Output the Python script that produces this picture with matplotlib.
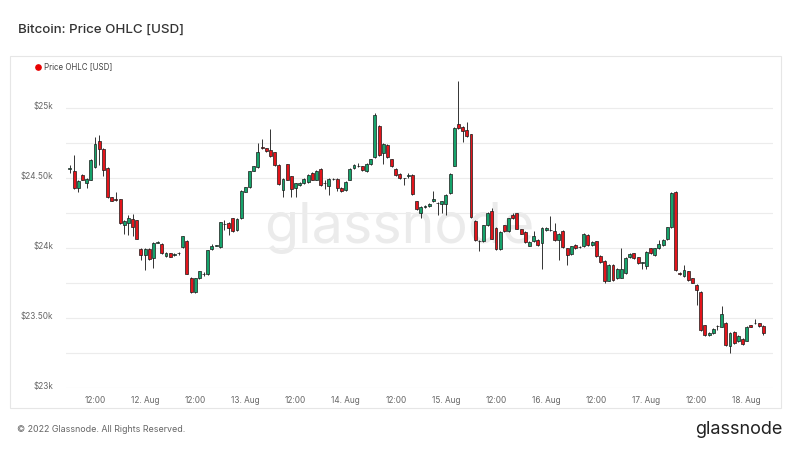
import datetime as dt
import matplotlib
matplotlib.use("Agg")
import matplotlib.pyplot as plt
import matplotlib.dates as mdates
import matplotlib.transforms as mtransforms
from matplotlib.lines import Line2D
from matplotlib.patches import Rectangle
import numpy as np
import pandas as pd

plt.rcParams['font.family'] = ['Inter', 'DejaVu Sans']

# hourly candles, 11 Aug 2022 06:00 -> 18 Aug 2022 04:00
start = "2022-08-11 06:00"
opens = [24565, 24550, 24430, 24525, 24470, 24490, 24580, 24765, 24710, 24575,
         24365, 24350, 24350, 24165, 24180, 24210, 24200, 23995, 23950, 23995,
         23930, 24040, 24030, 23945, 23965, 23955, 23965, 24010, 24055, 23790,
         23690, 23790, 23815, 23815, 23995, 24020, 24010, 24175, 24180, 24215,
         24130, 24215, 24405, 24435, 24555, 24580, 24725, 24715, 24705, 24685,
         24595, 24420, 24600, 24515, 24430, 24450, 24465, 24475, 24540, 24490,
         24570, 24465, 24445, 24495, 24495, 24430, 24415, 24490, 24575, 24585,
         24585, 24550, 24600, 24650, 24875, 24680, 24740, 24635, 24570, 24530,
         24500, 24520, 24525, 24335, 24255, 24295, 24300, 24335, 24325, 24320,
         24320, 24395, 24590, 24885, 24870, 24845, 24815, 24195, 24050, 24050,
         24165, 24265, 24145, 23995, 24165, 24125, 24240, 24250, 24135, 24120,
         24020, 24050, 24060, 24035, 24130, 24130, 24125, 24060, 24125, 24000,
         23960, 24025, 24010, 24015, 24095, 24025, 24050, 23945, 23910, 23770,
         23880, 23785, 23790, 23825, 23935, 23965, 23935, 23895, 23875, 24000,
         23950, 24000, 24025, 24065, 24150, 24405, 23825, 23800, 23835, 23785,
         23740, 23690, 23450, 23380, 23395, 23445, 23440, 23470, 23305, 23405,
         23335, 23355, 23340, 23450, 23465, 23465, 23445]
closes = [24575, 24430, 24480, 24490, 24495, 24630, 24745, 24710, 24560, 24365,
          24340, 24345, 24180, 24195, 24215, 24150, 24070, 23950, 23995, 23925,
          24040, 24040, 23965, 23970, 23940, 23960, 23970, 24085, 23820, 23685,
          23785, 23835, 23820, 23985, 24015, 24020, 24185, 24175, 24145, 24125,
          24210, 24410, 24435, 24550, 24585, 24690, 24715, 24695, 24660, 24595,
          24460, 24495, 24490, 24425, 24465, 24470, 24495, 24525, 24490, 24555,
          24450, 24465, 24495, 24495, 24430, 24410, 24475, 24570, 24595, 24590,
          24560, 24605, 24635, 24950, 24665, 24745, 24650, 24585, 24525, 24500,
          24500, 24525, 24385, 24280, 24295, 24305, 24320, 24355, 24325, 24335,
          24380, 24530, 24860, 24860, 24835, 24800, 24225, 24060, 24055, 24165,
          24255, 24070, 23995, 24120, 24125, 24215, 24215, 24140, 24105, 24045,
          24045, 24085, 24025, 24145, 24145, 24130, 24060, 24105, 24010, 23950,
          24015, 24000, 24010, 24105, 24025, 24045, 23945, 23905, 23770, 23880,
          23775, 23855, 23855, 23930, 23960, 23930, 23895, 23900, 23975, 23965,
          24000, 24030, 24060, 24150, 24395, 23845, 23820, 23845, 23775, 23755,
          23705, 23415, 23380, 23395, 23425, 23445, 23530, 23310, 23395, 23325,
          23375, 23315, 23440, 23440, 23465, 23445, 23395]
highs = [24595, 24670, 24485, 24530, 24500, 24635, 24795, 24810, 24720, 24580,
         24370, 24405, 24355, 24200, 24240, 24245, 24205, 24000, 24000, 24000,
         24045, 24050, 24035, 23975, 23970, 23965, 23975, 24090, 24060, 23795,
         23790, 23840, 23830, 23990, 24030, 24025, 24190, 24205, 24185, 24220,
         24215, 24415, 24440, 24555, 24590, 24750, 24780, 24720, 24855, 24690,
         24600, 24500, 24605, 24520, 24470, 24475, 24500, 24530, 24545, 24560,
         24575, 24490, 24500, 24500, 24500, 24435, 24480, 24575, 24600, 24610,
         24590, 24610, 24640, 24970, 24880, 24750, 24745, 24640, 24575, 24535,
         24505, 24540, 24530, 24340, 24300, 24310, 24325, 24410, 24330, 24340,
         24385, 24535, 24865, 25195, 24875, 24905, 24820, 24200, 24060, 24170,
         24260, 24285, 24150, 24125, 24170, 24220, 24255, 24255, 24140, 24125,
         24050, 24125, 24065, 24150, 24150, 24230, 24180, 24110, 24130, 24005,
         24020, 24030, 24015, 24110, 24100, 24050, 24055, 23950, 23915, 23885,
         23885, 23860, 24000, 23935, 23965, 23970, 23940, 23905, 23980, 24005,
         24005, 24060, 24065, 24155, 24400, 24410, 23830, 23880, 23840, 23790,
         23745, 23695, 23455, 23400, 23430, 23450, 23590, 23475, 23400, 23410,
         23380, 23360, 23445, 23455, 23495, 23470, 23450]
lows = [24535, 24425, 24400, 24485, 24430, 24485, 24575, 24595, 24520, 24360,
        24335, 24340, 24175, 24105, 24095, 24085, 24065, 23915, 23845, 23920,
        23860, 24035, 23960, 23935, 23935, 23945, 23950, 24005, 23815, 23680,
        23680, 23780, 23805, 23810, 23990, 24015, 24005, 24130, 24095, 24120,
        24125, 24210, 24400, 24430, 24550, 24575, 24710, 24690, 24655, 24590,
        24455, 24370, 24485, 24370, 24370, 24445, 24460, 24470, 24485, 24485,
        24445, 24425, 24380, 24490, 24410, 24405, 24410, 24485, 24570, 24580,
        24555, 24545, 24595, 24645, 24660, 24600, 24645, 24580, 24520, 24495,
        24455, 24500, 24380, 24275, 24215, 24290, 24295, 24330, 24240, 24250,
        24240, 24390, 24585, 24855, 24760, 24795, 24220, 24055, 23980, 24045,
        24160, 24065, 23990, 23990, 24120, 24120, 24210, 24135, 24100, 24040,
        24015, 24045, 24020, 23850, 24125, 24125, 24055, 23915, 24005, 23880,
        23955, 23995, 24005, 24010, 24020, 24020, 23940, 23895, 23750, 23765,
        23765, 23780, 23785, 23820, 23930, 23925, 23890, 23855, 23855, 23960,
        23945, 23995, 24020, 24060, 24145, 23840, 23810, 23795, 23770, 23750,
        23595, 23410, 23375, 23375, 23390, 23420, 23435, 23305, 23255, 23320,
        23330, 23310, 23335, 23435, 23460, 23440, 23380]

ytick_vals = [23000, 23500, 24000, 24500, 25000]
ytick_labels = ["$23k", "$23.50k", "$24k", "$24.50k", "$25k"]

times = pd.date_range(start, periods=len(closes), freq="h")
t = mdates.date2num(times.to_pydatetime())
o = np.array(opens)
c = np.array(closes)
h = np.array(highs)
l = np.array(lows)

up = "#16a36b"
down = "#e3141b"

fig = plt.figure(figsize=(8, 4.5), dpi=100)
fig.patch.set_facecolor("white")

# panel frame
fig.add_artist(Rectangle((10 / 800, 1 - 408 / 450), 771 / 800, 352 / 450,
                         transform=fig.transFigure, fill=False,
                         edgecolor="#e6e6e6", linewidth=0.8, zorder=-5))

fig.text(18 / 800, 1 - 30 / 450, "Bitcoin: Price OHLC [USD]", fontsize=9.6,
         color="#333333", va="center", ha="left", fontweight="medium")
fig.add_artist(Line2D([38 / 800], [1 - 66.5 / 450], marker="o", color="#e80000",
                      markersize=3.8, transform=fig.transFigure, linestyle="none"))
fig.text(44.5 / 800, 1 - 66.5 / 450, "Price OHLC [USD]", fontsize=5.7,
         color="#444444", va="center", ha="left")
fig.text(17 / 800, 1 - 430 / 450, "\u00a9 2022 Glassnode. All Rights Reserved.",
         fontsize=6.4, color="#666666", va="center", ha="left")
fig.text(783 / 800, 1 - 430 / 450, "glassnode", fontsize=13, color="#222222",
         va="center", ha="right")

ax = fig.add_axes([66 / 800, 1 - 388.3 / 450, 707 / 800, 315 / 450])
ax.set_facecolor("none")
ax.set_zorder(2)

ax.text(0.472, 0.51, "glassnode", transform=ax.transAxes, fontsize=40,
        color="#ebebeb", ha="center", va="center", zorder=0)

w = 0.7 / 24
cols = np.where(c >= o, up, down)
ax.vlines(t, l, h, color="#333333", linewidth=0.7, zorder=2)
ax.bar(t, np.maximum(np.abs(c - o), 2), bottom=np.minimum(o, c), width=w,
       color=cols, edgecolor="#1a1a1a", linewidth=0.5, zorder=3)

t0 = mdates.date2num(dt.datetime(2022, 8, 11))
ax.set_xlim(t0 + 5.06 / 24, t0 + 174.3 / 24)
ax.set_ylim(23000, 25250)

ax.set_yticks(ytick_vals)
ax.set_yticklabels(ytick_labels)
ax.set_yticks(np.arange(23250, 25250, 500), minor=True)
ax.grid(True, which="both", axis="y", color="#ececec", linewidth=0.8, zorder=0)
ax.set_axisbelow(True)
ax.tick_params(axis="y", which="both", length=0, labelsize=5.9,
               labelcolor="#666666", pad=9)
# labels sit a little above their grid lines
lift = mtransforms.ScaledTranslation(0, 3 / 100, fig.dpi_scale_trans)
for lab in ax.get_yticklabels():
    lab.set_transform(lab.get_transform() + lift)

xt = [t0 + k / 2 for k in range(1, 15)]
xl = []
for k in range(1, 15):
    d = dt.datetime(2022, 8, 11) + dt.timedelta(hours=12 * k)
    xl.append("12:00" if k % 2 else f"{d.day}. Aug")
ax.set_xticks(xt)
ax.set_xticklabels(xl)
ax.tick_params(axis="x", length=0, labelsize=5.9, labelcolor="#666666", pad=5.5)

for s in ax.spines.values():
    s.set_visible(False)

fig.savefig("out.png", dpi=100, facecolor="white")
